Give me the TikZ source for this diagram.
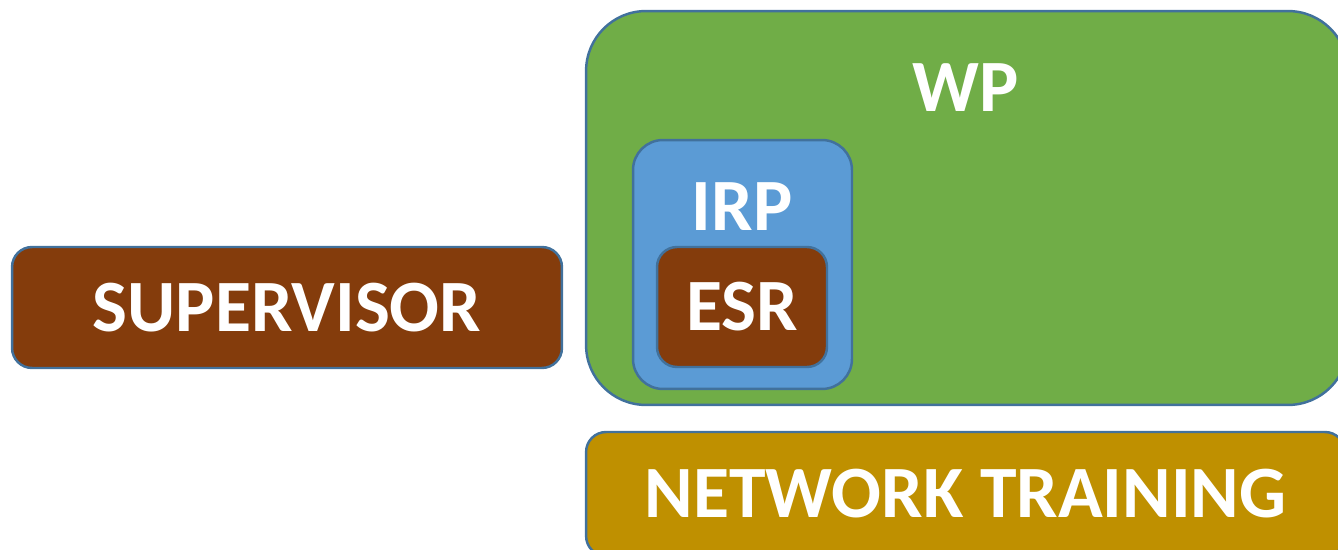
\documentclass[tikz,border=0pt]{standalone}
\usepackage{fontspec}
\setmainfont{Carlito}
\usepackage{tikz}
\usetikzlibrary{positioning}
\definecolor{BoxBrown}{HTML}{843C0C}
\definecolor{BoxGreen}{HTML}{70AD47}
\definecolor{BoxBlue}{HTML}{5B9BD5}
\definecolor{BoxGold}{HTML}{BF9000}
\definecolor{EdgeBlue}{HTML}{41719C}

\begin{document}
\begin{tikzpicture}[
      x=0.02cm, y=-0.02cm,
      box/.style={draw=EdgeBlue, line width=1.4pt, inner sep=0pt},
      lbl/.style={text=white, font=\fontsize{42}{46}\selectfont\bfseries, inner sep=0pt}
    ]
      \useasboundingbox (0,0) rectangle (1338,550);
      % boxes
      \node[box, fill=BoxGreen, rounded corners=1.2cm, minimum width=15.24cm, minimum height=7.88cm] (wp) at (967,208) {};
      \node[box, fill=BoxBlue, rounded corners=0.6cm, minimum width=4.38cm, minimum height=4.98cm] (irp) at (742.5,264.5) {};
      \node[box, fill=BoxBrown, rounded corners=0.4cm, minimum width=3.4cm, minimum height=2.4cm] (esr) at (742,307) {};
      \node[box, fill=BoxBrown, rounded corners=0.4cm, minimum width=11cm, minimum height=2.42cm] (sup) at (287,307.5) {};
      \node[box, fill=BoxGold, rounded corners=0.4cm, minimum width=15.18cm, minimum height=2.48cm] (net) at (965.5,494) {};
      % texts
      \node[lbl] (wptext) at (966,88) {WP};
      \node[lbl] (irptext) at (742,207) {IRP};
      \node[lbl] (esrtext) at (esr) {ESR};
      \node[lbl] (suptext) at (sup) {SUPERVISOR};
      \node[lbl] (nettext) at (net) {NETWORK TRAINING};
    \end{tikzpicture}
\end{document}
